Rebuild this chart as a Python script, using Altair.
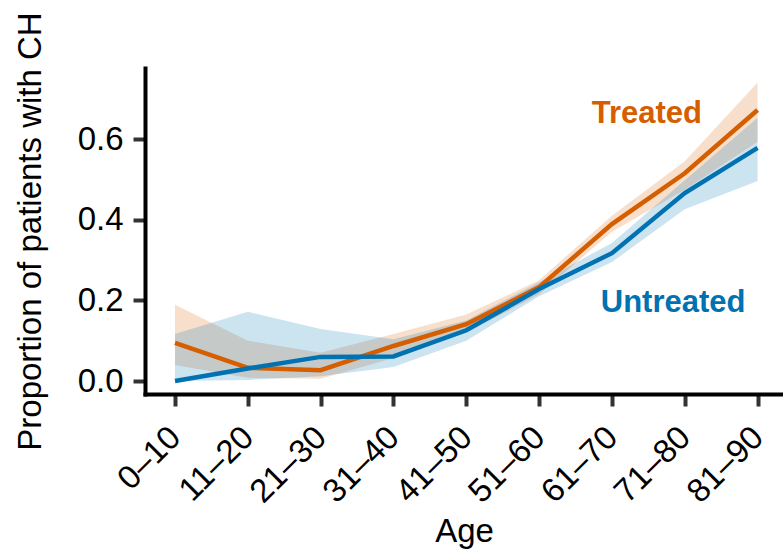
import json
import altair as alt
import pandas as pd

# Age bands on the x axis
age_groups = ["0–10", "11–20", "21–30", "31–40", "41–50",
              "51–60", "61–70", "71–80", "81–90"]

# Proportion of patients with CH, with confidence band limits
treated = [0.095, 0.033, 0.027, 0.087, 0.141, 0.233, 0.389, 0.515, 0.672]
treated_lo = [0.040, 0.008, 0.006, 0.057, 0.120, 0.215, 0.370, 0.474, 0.593]
treated_hi = [0.189, 0.100, 0.070, 0.117, 0.165, 0.250, 0.410, 0.545, 0.740]

untreated = [0.000, 0.031, 0.060, 0.061, 0.126, 0.228, 0.317, 0.466, 0.578]
untreated_lo = [0.000, 0.003, 0.012, 0.035, 0.100, 0.210, 0.295, 0.426, 0.496]
untreated_hi = [0.117, 0.172, 0.129, 0.104, 0.150, 0.245, 0.342, 0.498, 0.653]

groups = ["Treated", "Untreated"]
colors = ["#D55E00", "#0072B2"]

rows = []
for name, mean, lo, hi in [("Treated", treated, treated_lo, treated_hi),
                           ("Untreated", untreated, untreated_lo, untreated_hi)]:
    for i, label in enumerate(age_groups):
        rows.append({"idx": i, "age": label, "group": name,
                     "mean": mean[i], "lo": lo[i], "hi": hi[i]})
df = pd.DataFrame(rows)

# Direct labels for the two series
label_df = pd.DataFrame({
    "idx": [6.48, 6.84],
    "value": [0.640, 0.171],
    "group": groups,
})

FONT = "Liberation Sans"
label_expr = json.dumps(age_groups, ensure_ascii=False) + "[datum.value]"
x_scale = alt.Scale(domain=[-0.412, 8.349], nice=False, zero=False)
y_scale = alt.Scale(domain=[-0.032, 0.776], nice=False, zero=False)

x_enc = alt.X(
    "idx:Q",
    scale=x_scale,
    axis=alt.Axis(
        values=list(range(len(age_groups))),
        labelExpr=label_expr,
        labelAngle=-45,
        labelAlign="right",
        labelBaseline="middle",
        labelPadding=26,
        labelOverlap=False,
        labelBound=False,
        title="Age",
        titleY=147,
        titleBaseline="alphabetic",
    ),
)
y_axis = alt.Axis(
    values=[0.0, 0.2, 0.4, 0.6],
    format=".1f",
    labelOverlap=False,
    title="Proportion of patients with CH",
    titleAngle=-90,
    titleAlign="center",
    titleBaseline="alphabetic",
    titleX=-105,
    titleY=163,
)
color_enc = alt.Color("group:N", scale=alt.Scale(domain=groups, range=colors), legend=None)

base = alt.Chart(df)

bands = base.mark_area(opacity=0.2, clip=True).encode(
    x=x_enc,
    y=alt.Y("lo:Q", scale=y_scale, axis=y_axis),
    y2="hi:Q",
    color=color_enc,
)

lines = base.mark_line(strokeWidth=4.5, clip=True).encode(
    x=x_enc,
    y=alt.Y("mean:Q", scale=y_scale, axis=y_axis),
    color=color_enc,
    order=alt.Order("idx:Q"),
)

labels = alt.Chart(label_df).mark_text(
    font=FONT, fontSize=31, fontWeight="bold", align="center", baseline="alphabetic"
).encode(
    x=alt.X("idx:Q", scale=x_scale),
    y=alt.Y("value:Q", scale=y_scale),
    color=color_enc,
    text="group:N",
)

chart = alt.layer(bands, lines, labels).properties(
    width=638,
    height=326,
    background="#ffffff",
    autosize=alt.AutoSizeParams(type="none"),
    padding={"left": 145, "top": 68, "right": 0, "bottom": 158},
).configure_view(
    stroke=None
).configure_axis(
    grid=False,
    domainColor="#000000",
    domainWidth=4,
    domainCap="square",
    tickColor="#333333",
    tickWidth=4,
    tickSize=12,
    labelFont=FONT,
    labelFontSize=33,
    labelColor="#000000",
    labelPadding=10,
    titleFont=FONT,
    titleFontSize=33,
    titleFontWeight="normal",
    titleColor="#000000",
)

chart.save("out.html", embed_options={"renderer": "svg", "actions": False})
